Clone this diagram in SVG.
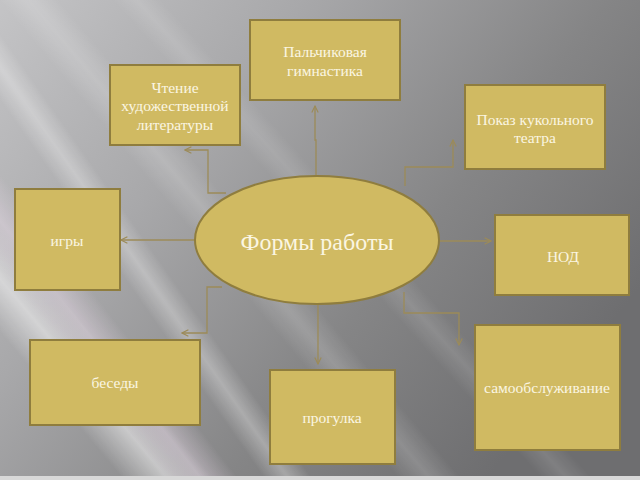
<svg xmlns="http://www.w3.org/2000/svg" width="640" height="480" viewBox="0 0 640 480">
<defs>
<linearGradient id="bg" x1="0" y1="0" x2="1" y2="0.6">
<stop offset="0" stop-color="#c4c4c6"/>
<stop offset="0.35" stop-color="#a8a8aa"/>
<stop offset="0.7" stop-color="#858586"/>
<stop offset="1" stop-color="#6e6e70"/>
</linearGradient>
<linearGradient id="streak" x1="0" y1="0" x2="1" y2="0">
<stop offset="0" stop-color="#ffffff" stop-opacity="0"/>
<stop offset="0.5" stop-color="#ffffff" stop-opacity="0.55"/>
<stop offset="1" stop-color="#ffffff" stop-opacity="0"/>
</linearGradient>
<linearGradient id="streakP" x1="0" y1="0" x2="1" y2="0">
<stop offset="0" stop-color="#e8d8e8" stop-opacity="0"/>
<stop offset="0.5" stop-color="#eadcea" stop-opacity="0.5"/>
<stop offset="1" stop-color="#e8d8e8" stop-opacity="0"/>
</linearGradient>
<marker id="arr" viewBox="0 0 10 10" refX="9" refY="5" markerWidth="8" markerHeight="8" orient="auto" markerUnits="userSpaceOnUse">
<path d="M1,1 L9,5 L1,9" fill="none" stroke="#9c8b58" stroke-width="1.4"/>
</marker>
<style>
.box{fill:#d0ba62;stroke:#8f7d3e;stroke-width:2}
.t{font-family:"Liberation Serif","Times New Roman",serif;font-size:15.5px;fill:#fbf6e2;text-anchor:middle}
.big{font-size:24px}
.c{fill:none;stroke:#9c8b58;stroke-width:1.3;marker-end:url(#arr)}
</style>
</defs>
<rect width="640" height="480" fill="url(#bg)"/>
<g opacity="0.9">
<rect x="-60" y="-200" width="70" height="900" fill="url(#streak)" transform="rotate(-40 0 240)"/>
<rect x="40" y="-200" width="60" height="900" fill="url(#streakP)" transform="rotate(-38 100 300)"/>
<rect x="150" y="-200" width="40" height="900" fill="url(#streak)" transform="rotate(-35 200 300)" opacity="0.6"/>
<rect x="260" y="-200" width="50" height="900" fill="url(#streak)" transform="rotate(-40 300 300)" opacity="0.35"/>
<rect x="390" y="-200" width="40" height="900" fill="url(#streak)" transform="rotate(-42 420 300)" opacity="0.25"/>
</g>
<rect x="0" y="476" width="640" height="4" fill="#d8d8d8"/>
<g id="connectors">
<polyline class="c" points="226,193 208,193 208,150 185,150"/>
<polyline class="c" points="316,176 316,140 315,140 315,106"/>
<polyline class="c" points="405,186 405,167 453,167 453,140"/>
<polyline class="c" points="440,241 491,241"/>
<polyline class="c" points="196,240 121,240"/>
<polyline class="c" points="222,287 207,287 207,333 182,333"/>
<polyline class="c" points="318,305 318,364"/>
<polyline class="c" points="404,292 404,313 459,313 459,345"/>
</g>
<g id="n-center">
<ellipse class="box" cx="317" cy="240" rx="122" ry="64"/>
<text class="t big" x="317" y="250">Формы работы</text>
</g>
<g id="n-read">
<rect class="box" x="110" y="65" width="130" height="80"/>
<text class="t" x="175" y="93">Чтение</text>
<text class="t" x="175" y="111">художественной</text>
<text class="t" x="175" y="130">литературы</text>
</g>
<g id="n-finger">
<rect class="box" x="250" y="20" width="150" height="80"/>
<text class="t" x="325" y="57">Пальчиковая</text>
<text class="t" x="325" y="76">гимнастика</text>
</g>
<g id="n-puppet">
<rect class="box" x="465" y="85" width="140" height="84"/>
<text class="t" x="535" y="125">Показ кукольного</text>
<text class="t" x="535" y="143">театра</text>
</g>
<g id="n-nod">
<rect class="box" x="495" y="215" width="134" height="80"/>
<text class="t" x="563" y="262">НОД</text>
</g>
<g id="n-games">
<rect class="box" x="15" y="189" width="105" height="101"/>
<text class="t" x="67" y="246">игры</text>
</g>
<g id="n-talk">
<rect class="box" x="30" y="340" width="170" height="85"/>
<text class="t" x="115" y="388">беседы</text>
</g>
<g id="n-walk">
<rect class="box" x="270" y="370" width="125" height="94"/>
<text class="t" x="332" y="423">прогулка</text>
</g>
<g id="n-self">
<rect class="box" x="475" y="325" width="145" height="125"/>
<text class="t" x="547" y="393">самообслуживание</text>
</g>
</svg>
